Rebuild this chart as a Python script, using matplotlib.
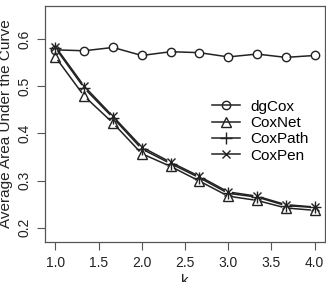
import matplotlib
matplotlib.use('Agg')
import matplotlib.pyplot as plt
import numpy as np

plt.rcParams['font.family'] = ['Liberation Sans', 'DejaVu Sans']

# данные
k = [1.0, 4/3, 5/3, 2.0, 7/3, 8/3, 3.0, 10/3, 11/3, 4.0]
dgcox = [0.577, 0.575, 0.582, 0.565, 0.573, 0.571, 0.562, 0.568, 0.561, 0.565]
coxnet = [0.562, 0.479, 0.422, 0.357, 0.330, 0.299, 0.267, 0.258, 0.242, 0.237]
coxpath = [0.581, 0.496, 0.433, 0.367, 0.336, 0.306, 0.273, 0.265, 0.247, 0.243]
coxpen = [0.584, 0.500, 0.436, 0.371, 0.339, 0.309, 0.276, 0.267, 0.249, 0.244]
labels = ['dgCox', 'CoxNet', 'CoxPath', 'CoxPen']
markers = ['o', '^', '+', 'x']

fig = plt.figure(figsize=(3.26, 2.82), dpi=100)
ax = fig.add_axes([0.138, 0.142, 0.859, 0.837])
ax.set_xlim(0.88, 4.12)
ax.set_ylim(0.17, 0.67)

col = '#222222'
gap = 4.5  # разрыв линии вокруг точки, в пикселях (как type="b" в R)


def plot_b(x, y, marker, ms):
    # рисуем отрезки с разрывами около точек
    pts = ax.transData.transform(np.column_stack([x, y]))
    inv = ax.transData.inverted()
    for p0, p1 in zip(pts[:-1], pts[1:]):
        d = p1 - p0
        L = np.hypot(*d)
        if L <= 2 * gap:
            continue
        u = d / L
        a = inv.transform(p0 + u * gap)
        b = inv.transform(p1 - u * gap)
        ax.plot([a[0], b[0]], [a[1], b[1]], color=col, lw=1.1)
    ax.plot(x, y, linestyle='none', marker=marker, ms=ms, mfc='none',
            mec=col, mew=1.0)


series = [dgcox, coxnet, coxpath, coxpen]
sizes = [6, 7, 8, 6]
for ys, m, s in zip(series, markers, sizes):
    plot_b(k, ys, m, s)

# легенда
handles = [plt.Line2D([], [], color=col, lw=1.1, marker=m, ms=s, mfc='none',
                      mec=col, mew=1.0) for m, s in zip(markers, sizes)]
ax.legend(handles, labels, loc='upper left', bbox_to_anchor=(0.57, 0.635),
          frameon=False, fontsize=11, handlelength=1.8, handletextpad=0.7,
          labelspacing=0.15, borderpad=0)

ax.set_xticks([1.0, 1.5, 2.0, 2.5, 3.0, 3.5, 4.0])
ax.set_xticklabels(['1.0', '1.5', '2.0', '2.5', '3.0', '3.5', '4.0'])
ax.set_yticks([0.2, 0.3, 0.4, 0.5, 0.6])
ax.set_yticklabels(['0.2', '0.3', '0.4', '0.5', '0.6'], rotation=90,
                   va='center')
ax.tick_params(length=6, width=0.8, color='#555555', labelsize=10,
               labelcolor=col, pad=4)
for sp in ax.spines.values():
    sp.set_color('#555555')
    sp.set_linewidth(0.9)

ax.set_xlabel('k', fontsize=11, color=col, labelpad=3)
ax.set_ylabel('Average Area Under the Curve', fontsize=11, color=col,
              labelpad=3)

fig.savefig('out.png', dpi=100)
